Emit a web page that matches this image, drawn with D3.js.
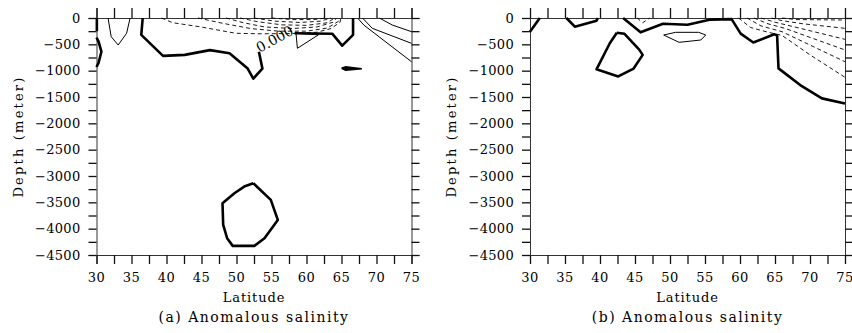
<!DOCTYPE html>
<html>
<head>
<meta charset="utf-8">
<script src="https://cdn.jsdelivr.net/npm/d3@7"></script>
<style>
  body { margin: 0; background: #fff; }
  text { font-family: "DejaVu Serif", serif; fill: #000; }
</style>
</head>
<body>
<svg id="canvas" width="852" height="333"></svg>
<script>
const svg = d3.select("#canvas");

// axis ticks
const latTicks = [30, 32.5, 35, 37.5, 40, 42.5, 45, 47.5, 50, 52.5, 55, 57.5, 60, 62.5, 65, 67.5, 70, 72.5, 75];
const latLabels = [30, 35, 40, 45, 50, 55, 60, 65, 70, 75];
const depthTicks = [0, -250, -500, -750, -1000, -1250, -1500, -1750, -2000, -2250, -2500, -2750,
    -3000, -3250, -3500, -3750, -4000, -4250, -4500];
const depthLabels = [0, -500, -1000, -1500, -2000, -2500, -3000, -3500, -4000, -4500];

// panel (a) contours, [latitude, depth]
const zeroA = [
    [[30.05, 0], [30.05, -250]],
    [[30, -370], [30.3, -450], [30.7, -640], [30.3, -850], [30, -930]],
    [[36.6, 0], [36.4, -320], [39.5, -720], [42.6, -700], [46.2, -610], [49.0, -670], [51.6, -960],
        [52.4, -1150], [53.7, -960], [53.2, -640]],
    [[58.3, -290], [63.7, -300], [65.1, -525], [66.65, -320], [66.65, 0]],
    [[52.4, -3137], [54.9, -3454], [55.9, -3834], [54.0, -4181], [52.55, -4327], [49.46, -4327],
        [48.66, -4181], [48.1, -3929], [48.0, -3517], [49.7, -3327], [51.1, -3201], [52.4, -3137]]
];
const blobA = [[65, -955], [65.6, -990], [67.9, -962], [65.6, -928], [65, -955]];
const posA = [
    [[31.65, 0], [32.1, -355], [33.1, -513], [34.3, -290], [34.8, 0]],
    [[58.5, -290], [58.7, -575], [61.7, -320], [58.5, -290]],
    [[67.3, 0], [68.2, -135], [75, -830]],
    [[68.0, 0], [69.4, -196], [75, -481]],
    [[70.4, 0], [72.25, -133], [75, -260]]
];
const negA = [
    [[39.3, 0], [40.9, -90], [44.7, -165], [49.9, -290], [53.5, -300], [58, -295], [61.5, -270],
        [63.5, -200], [64.8, -80], [64.9, 0]],
    [[44.5, 0], [48, -100], [52, -200], [56, -250], [60, -250], [63, -190], [64.6, -60], [64.7, 0]],
    [[48.5, 0], [51, -90], [54, -170], [58, -200], [61.5, -170], [63.8, -80], [64.3, 0]],
    [[50.5, 0], [53, -70], [56.5, -130], [60, -140], [63, -90], [64, 0]],
    [[52.5, 0], [55.5, -60], [59, -85], [62, -60], [63.5, 0]],
    [[55, 0], [58, -30], [61, -30], [62.8, 0]]
];
const labelA = { lat: 53.3, depth: -665, text: "0.000" };

// panel (b) contours
const zeroB = [
    [[30, -260], [31.4, 0]],
    [[35.2, 0], [36.4, -165], [39.5, -50], [39.7, 0]],
    [[43.3, 0], [45.8, -272], [49.0, -108], [52.5, -127], [55.8, -30], [58.8, -22], [60.1, -297],
        [61.9, -465], [64.9, -310], [65.3, -330], [65.5, -956], [68.6, -1273], [71.7, -1526], [75, -1625]],
    [[42.4, -280], [43.5, -300], [45.6, -600], [46.1, -700], [44.8, -960], [42.6, -1110], [39.5, -975],
        [41.4, -480], [42.4, -280]]
];
const posB = [
    [[49.1, -323], [50.8, -272], [54.1, -272], [55.1, -323], [54.4, -418], [51.3, -462], [49.1, -323]]
];
const negB = [
    [[45.3, 0], [46.1, -90], [47.1, 0]],
    [[59.8, 0], [61.5, -180], [64, -270], [66, -330], [70, -700], [75, -1126]],
    [[61, 0], [63, -150], [66, -260], [75, -830]],
    [[62, 0], [64, -110], [66.5, -200], [75, -607]],
    [[63, 0], [65, -80], [67.5, -160], [75, -405]],
    [[64.5, 0], [66, -50], [69, -110], [75, -196]],
    [[66, 0], [68, -30], [75, -38]]
];

const panels = [
    { left: 96.5, caption: "(a) Anomalous salinity", zero: zeroA, pos: posA, neg: negA, blob: blobA, label: labelA },
    { left: 530, caption: "(b) Anomalous salinity", zero: zeroB, pos: posB, neg: negB, blob: null, label: null }
];

const pw = 315;
const ph = 237;
const topY = 18;

const x = d3.scaleLinear().domain([30, 75]).range([0, pw]);
const y = d3.scaleLinear().domain([0, -4500]).range([0, ph]);
const line = d3.line().x(d => x(d[0])).y(d => y(d[1]));
const fmt = d3.format("d");

panels.forEach(p => {
    const g = svg.append("g").attr("transform", `translate(${p.left},${topY})`);

    // frame + ticks
    const axTop = g.append("g").call(d3.axisTop(x).tickValues(latTicks).tickSize(10).tickFormat(""));
    const axBot = g.append("g").attr("transform", `translate(0,${ph})`)
        .call(d3.axisBottom(x).tickValues(latTicks).tickSize(9).tickFormat(""));
    const axL = g.append("g").call(d3.axisLeft(y).tickValues(depthTicks).tickSize(8).tickFormat(""));
    const axR = g.append("g").attr("transform", `translate(${pw},0)`)
        .call(d3.axisRight(y).tickValues(depthTicks).tickSize(8).tickFormat(""));
    [axTop, axBot, axL, axR].forEach(a => {
        a.selectAll("path").attr("stroke", "#333").attr("stroke-width", 1);
        a.selectAll("line").attr("stroke", "#111").attr("stroke-width", 1.3);
    });

    g.selectAll("text.xl")
        .data(latLabels)
        .enter()
        .append("text")
        .attr("x", d => x(d))
        .attr("y", ph + 27)
        .attr("text-anchor", "middle")
        .attr("font-size", "13px")
        .attr("letter-spacing", "0.4px")
        .text(d => d);

    g.selectAll("text.yl")
        .data(depthLabels)
        .enter()
        .append("text")
        .attr("x", -16)
        .attr("y", d => y(d) + 4.8)
        .attr("text-anchor", "end")
        .attr("font-size", "13px")
        .attr("letter-spacing", "0.3px")
        .text(d => d === 0 ? "0" : "\u2212" + fmt(-d));

    g.append("text")
        .attr("x", pw / 2)
        .attr("y", ph + 47)
        .attr("text-anchor", "middle")
        .attr("font-size", "13px")
        .attr("letter-spacing", "0.9px")
        .text("Latitude");

    g.append("text")
        .attr("x", pw / 2)
        .attr("y", ph + 67)
        .attr("text-anchor", "middle")
        .attr("font-size", "14px")
        .attr("letter-spacing", "1.5px")
        .text(p.caption);

    g.append("text")
        .attr("transform", `translate(-74,${ph / 2}) rotate(-90)`)
        .attr("text-anchor", "middle")
        .attr("font-size", "13px")
        .attr("letter-spacing", "2.2px")
        .text("Depth (meter)");

    // contours
    const c = g.append("g").attr("fill", "none").attr("stroke", "#000");

    c.selectAll("path.neg")
        .data(p.neg)
        .enter()
        .append("path")
        .attr("d", line)
        .attr("stroke-width", 0.9)
        .attr("stroke-dasharray", "4,3");

    c.selectAll("path.pos")
        .data(p.pos)
        .enter()
        .append("path")
        .attr("d", line)
        .attr("stroke-width", 1);

    c.selectAll("path.zero")
        .data(p.zero)
        .enter()
        .append("path")
        .attr("d", line)
        .attr("stroke-width", 2.6)
        .attr("stroke-linejoin", "round");

    if (p.blob) {
        g.append("path")
            .attr("d", line(p.blob))
            .attr("fill", "#000")
            .attr("stroke", "#000")
            .attr("stroke-width", 1.5);
    }

    if (p.label) {
        const lx = x(p.label.lat);
        const ly = y(p.label.depth);
        g.append("text")
            .attr("transform", `translate(${lx},${ly}) rotate(-29)`)
            .attr("font-family", "Liberation Sans, sans-serif")
            .attr("font-size", "14px")
            .text(p.label.text);
    }
});
</script>
</body>
</html>
